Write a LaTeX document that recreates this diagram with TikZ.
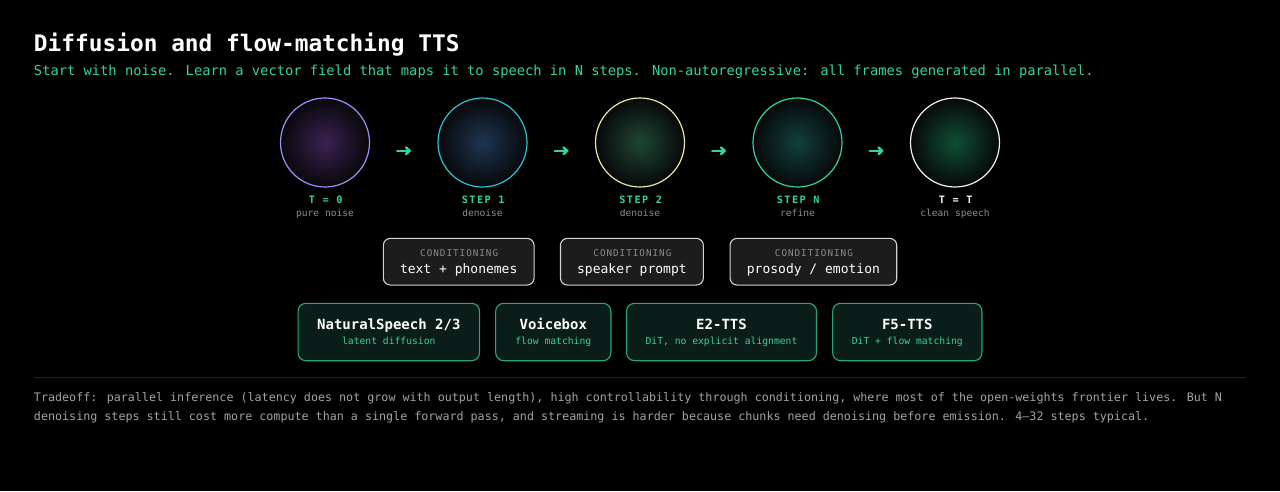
\documentclass[tikz,border=0pt]{standalone}
\usepackage{fontspec}
\setmainfont{DejaVu Sans Mono}
\usetikzlibrary{calc,arrows.meta}
\definecolor{bgc}{HTML}{000000}
\definecolor{accent}{HTML}{34D399}
\definecolor{mutedgray}{HTML}{8C8C8C}
\definecolor{foottext}{HTML}{A3A3A3}
\definecolor{rulecol}{HTML}{1F2422}
\definecolor{ringA}{HTML}{A78BFA}
\definecolor{ringB}{HTML}{2CC3D6}
\definecolor{ringC}{HTML}{E2EDA2}
\definecolor{ringD}{HTML}{34D399}
\definecolor{ringE}{HTML}{F2F2F2}
\definecolor{glowA}{HTML}{3A2152}
\definecolor{glowB}{HTML}{1E3552}
\definecolor{glowC}{HTML}{1F4632}
\definecolor{glowD}{HTML}{11403C}
\definecolor{glowE}{HTML}{0F4E35}
\definecolor{rimdark}{HTML}{07080A}
\definecolor{condfill}{HTML}{1C1C1C}
\definecolor{conddraw}{HTML}{D2D2D2}
\definecolor{modfill}{HTML}{0B1D18}
\definecolor{moddraw}{HTML}{2BA777}
\tikzset{
  stage/.style={circle, minimum size=89pt, line width=1.2pt, outer color=rimdark},
  steptitle/.style={anchor=base, font=\fontsize{10.2}{12}\selectfont\bfseries\addfontfeature{LetterSpace=14}},
  stepsub/.style={anchor=base, text=mutedgray, font=\fontsize{9.6}{12}\selectfont},
  flowline/.style={draw=accent, line width=2.5pt, line cap=round, -{Straight Barb[length=3.6pt, width=6.5pt, line cap=round, line join=round]}},
  condbox/.style={rectangle, rounded corners=7pt, draw=conddraw, fill=condfill, line width=1.1pt, minimum height=46.7pt},
  condkey/.style={anchor=base, text=mutedgray, font=\fontsize{9.3}{11}\selectfont\addfontfeature{LetterSpace=10.5}},
  condval/.style={anchor=base, text=white, font=\fontsize{13}{15}\selectfont},
  modbox/.style={rectangle, rounded corners=8pt, draw=moddraw, fill=modfill, line width=1.1pt, minimum height=57.4pt},
  modname/.style={anchor=base, text=white, font=\fontsize{14}{16}\selectfont\bfseries},
  moddesc/.style={anchor=base, text=accent, font=\fontsize{9.7}{12}\selectfont},
  footline/.style={anchor=base west, text=foottext, font=\fontsize{11.7}{14}\selectfont},
}
\begin{document}
\begin{tikzpicture}[x=1pt, y=-1pt, every node/.style={inner sep=0pt, outer sep=0pt}]
\fill[bgc] (0,0) rectangle (1280,491);
\useasboundingbox (0,0) rectangle (1280,491);

% title
\node[anchor=base west, text=white, font=\fontsize{22.8}{27}\selectfont\bfseries] (title) at (34,51) {Diffusion and flow-matching TTS};
\node[anchor=base west, text=accent, font=\fontsize{13.75}{16}\selectfont] (subtitle) at (34,75.7) {Start with noise. Learn a vector field that maps it to speech in N steps. Non-autoregressive: all frames generated in parallel.};

% stages
\node[stage, draw=ringA, inner color=glowA] (c1) at (325,142.5) {};
\node[stage, draw=ringB, inner color=glowB] (c2) at (482.5,142.5) {};
\node[stage, draw=ringC, inner color=glowC] (c3) at (640,142.5) {};
\node[stage, draw=ringD, inner color=glowD] (c4) at (797.5,142.5) {};
\node[stage, draw=ringE, inner color=glowE] (c5) at (955,142.5) {};

\foreach \p/\q/\i in {c1/c2/1, c2/c3/2, c3/c4/3, c4/c5/4}{
  \coordinate (a\i s) at ($(\p)!0.5!(\q)+(-6.5,8.3)$);
  \coordinate (a\i e) at ($(\p)!0.5!(\q)+(7.2,8.3)$);
  \draw[flowline] (a\i s) -- (a\i e);
}

\node[steptitle, text=accent] (t1) at ($(c1)+(0.7,61)$) {T = 0};
\node[steptitle, text=accent] (t2) at ($(c2)+(0.7,61)$) {STEP 1};
\node[steptitle, text=accent] (t3) at ($(c3)+(0.7,61)$) {STEP 2};
\node[steptitle, text=accent] (t4) at ($(c4)+(0.7,61)$) {STEP N};
\node[steptitle, text=white] (t5) at ($(c5)+(0.7,61)$) {T = T};

\node[stepsub] (s1) at ($(c1)+(0,74)$) {pure noise};
\node[stepsub] (s2) at ($(c2)+(0,74)$) {denoise};
\node[stepsub] (s3) at ($(c3)+(0,74)$) {denoise};
\node[stepsub] (s4) at ($(c4)+(0,74)$) {refine};
\node[stepsub] (s5) at ($(c5)+(0,74)$) {clean speech};

% conditioning
\node[condbox, minimum width=150.7pt] (k1) at (458.7,261.7) {};
\node[condbox, minimum width=142.9pt] (k2) at (631.9,261.7) {};
\node[condbox, minimum width=166.7pt] (k3) at (813.4,261.7) {};
\foreach \k/\v in {k1/{text + phonemes}, k2/{speaker prompt}, k3/{prosody / emotion}}{
  \node[condkey] (\k key) at ($(\k.north)+(0.5,17.7)$) {CONDITIONING};
  \node[condval] (\k val) at ($(\k.north)+(0,35)$) {\v};
}

% models
\node[modbox, minimum width=181.5pt] (m1) at (388.8,332) {};
\node[modbox, minimum width=115.3pt] (m2) at (553.3,332) {};
\node[modbox, minimum width=190pt] (m3) at (721.5,332) {};
\node[modbox, minimum width=149.3pt] (m4) at (907.3,332) {};
\foreach \m/\n/\d in {m1/{NaturalSpeech 2\slash 3}/{latent diffusion}, m2/{Voicebox}/{flow matching}, m3/{E2-TTS}/{DiT, no explicit alignment}, m4/{F5-TTS}/{DiT + flow matching}}{
  \node[modname] (\m name) at ($(\m.north)+(0,25.7)$) {\n};
  \node[moddesc] (\m desc) at ($(\m.north)+(0,41.2)$) {\d};
}

% footer
\coordinate (ruleL) at (34,377);
\coordinate (ruleR) at (1246,377);
\draw[rulecol, line width=1pt] (ruleL) -- (ruleR);
\node[footline] (foot1) at (34,401) {Tradeoff: parallel inference (latency does not grow with output length), high controllability through conditioning, where most of the open-weights frontier lives. But N};
\node[footline] (foot2) at (34,420) {denoising steps still cost more compute than a single forward pass, and streaming is harder because chunks need denoising before emission. 4–32 steps typical.};
\end{tikzpicture}
\end{document}
